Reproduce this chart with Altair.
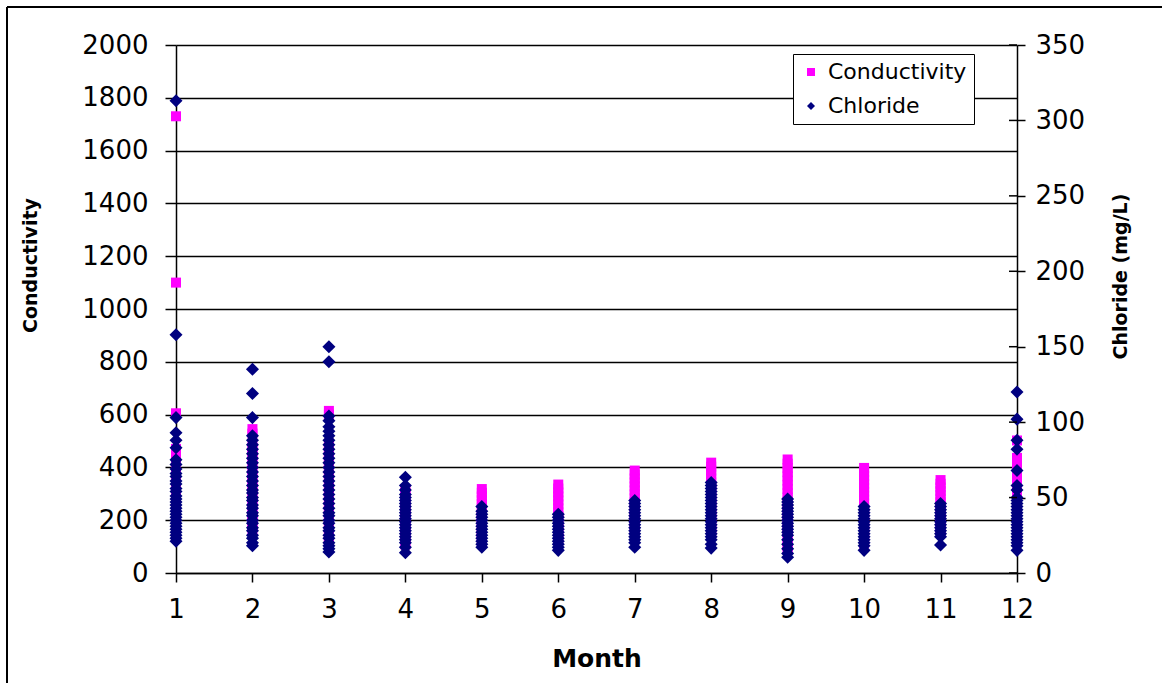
import altair as alt
import pandas as pd

# Monthly readings: conductivity (left axis) and chloride in mg/L (right axis)
months = list(range(1, 13))

cond_m1 = [1730, 1100, 605, 470, 458, 445, 432, 418, 404, 390, 376, 362, 348, 334, 320, 306,
           292, 278, 264, 250, 236, 222, 208, 194, 180, 166, 152, 140]
cond_m2 = [545, 528, 478, 462, 447, 432, 416, 400, 384, 368, 352, 336, 320, 304, 288, 272,
           256, 240, 224, 208, 192, 176, 162]
cond_m3 = [614, 600, 490, 474, 458, 442, 426, 410, 394, 378, 362, 346, 330, 314, 298, 282,
           266, 250, 234, 218, 202, 186, 170, 155, 140, 126, 114]
cond_m4 = [318, 304, 290, 276, 262, 248, 234, 220, 206, 192, 178, 164, 150, 136, 122, 108]
cond_m5 = [318, 304, 290, 276, 262, 248, 234, 220, 206, 192, 178, 164, 150, 136, 122]
cond_m6 = [335, 320, 305, 290, 275, 260, 245, 230, 215, 200, 185, 170, 155, 142, 130]
cond_m7 = [388, 373, 358, 343, 328, 313, 298, 283, 268, 253, 238, 223, 208, 193, 178, 164]
cond_m8 = [418, 403, 388, 373, 358, 343, 328, 313, 298, 283, 268, 253, 238, 223, 208, 193,
           178, 163, 150]
cond_m9 = [430, 414, 398, 382, 366, 350, 334, 318, 302, 286, 270, 254, 238, 222, 206, 190,
           174, 158, 142, 126, 112, 100, 90]
cond_m10 = [398, 383, 368, 353, 338, 323, 308, 293, 278, 263, 248, 233, 218, 203, 188, 173,
            158, 143, 128, 112]
cond_m11 = [352, 338, 324, 310, 296, 282, 268, 254, 240, 226, 212, 198, 184, 170, 160]
cond_m12 = [502, 436, 422, 408, 394, 380, 366, 352, 338, 324, 310, 296, 282, 268, 254, 240,
            226, 212, 198, 184, 170, 156, 143, 130]

chl_m1 = [313, 158, 103, 93, 88, 83, 75, 72, 69, 66, 64, 61, 59, 56, 54, 51, 49, 47, 45, 43,
          41, 39, 37, 35, 33, 31, 29, 27, 25, 23, 21]
chl_m2 = [135, 119, 103, 91, 88, 85, 82, 79, 76, 73, 70, 67, 64, 61, 58, 55, 53, 50, 48, 45,
          43, 40, 38, 35, 33, 30, 28, 25, 23, 20, 18]
chl_m3 = [150, 140, 104, 101, 97, 94, 91, 88, 85, 82, 79, 76, 73, 70, 67, 64, 61, 58, 55, 52,
          49, 46, 43, 40, 38, 35, 33, 30, 28, 25, 23, 20, 18, 16, 14]
chl_m4 = [63.5, 58, 55, 52, 50, 48, 46, 44, 42, 40, 38, 36, 34, 32, 30, 28, 26, 24, 22, 20,
          17, 13.5]
chl_m5 = [44, 41, 39, 37, 35, 33, 31, 29, 27, 25, 23, 21, 19, 17]
chl_m6 = [39, 37, 35, 33, 31, 29, 27, 25, 23, 21, 19, 17, 15]
chl_m7 = [48, 46, 44, 42, 40, 38, 36, 34, 32, 30, 28, 26, 24, 22, 20, 17]
chl_m8 = [60, 58, 56, 54, 52, 50, 48, 46, 44, 42, 40, 38, 36, 34, 32, 30, 28, 26, 24, 22,
          19, 16.5]
chl_m9 = [49, 47, 45, 43, 41, 39, 37, 35, 33, 31, 29, 27, 25, 22, 19, 16, 13, 10.5]
chl_m10 = [44, 42, 40, 38, 36, 34, 32, 30, 28, 26, 24, 22, 20, 18, 15]
chl_m11 = [46, 44, 42, 40, 38, 36, 34, 32, 30, 28, 26, 24, 18.5]
chl_m12 = [120, 102, 88, 82, 68, 58, 55, 50, 48, 46, 44, 42, 40, 38, 36, 34, 32, 30, 28, 26,
           24, 22, 20, 18, 15]

cond_ticks = [0, 200, 400, 600, 800, 1000, 1200, 1400, 1600, 1800, 2000]
chl_ticks = [0, 50, 100, 150, 200, 250, 300, 350]
series_names = ["Conductivity", "Chloride"]
series_colors = ["#FF00FF", "#000080"]
series_shapes = ["square", "diamond"]

cond_lists = [cond_m1, cond_m2, cond_m3, cond_m4, cond_m5, cond_m6,
              cond_m7, cond_m8, cond_m9, cond_m10, cond_m11, cond_m12]
chl_lists = [chl_m1, chl_m2, chl_m3, chl_m4, chl_m5, chl_m6,
             chl_m7, chl_m8, chl_m9, chl_m10, chl_m11, chl_m12]

cond_df = pd.DataFrame(
    [{"month": m, "value": v, "series": "Conductivity"} for m, vals in zip(months, cond_lists) for v in vals]
)
chl_df = pd.DataFrame(
    [{"month": m, "value": v, "series": "Chloride"} for m, vals in zip(months, chl_lists) for v in vals]
)
chl_tick_df = pd.DataFrame({"value": chl_ticks})

W, H = 841, 528
FONT = "DejaVu Sans"

legend = alt.Legend(
    title=None, orient="none", legendX=617, legendY=9,
    labelFont=FONT, labelFontSize=22, labelColor="black", labelOffset=6,
    strokeColor="black", fillColor="white", padding=7, rowPadding=12,
    symbolSize=64, symbolOffset=0, symbolStrokeWidth=0,
)
color_enc = alt.Color("series:N", scale=alt.Scale(domain=series_names, range=series_colors), legend=legend)
shape_enc = alt.Shape("series:N", scale=alt.Scale(domain=series_names, range=series_shapes), legend=legend)

x_enc = alt.X(
    "month:Q",
    scale=alt.Scale(domain=[1, 12], nice=False, zero=False),
    axis=alt.Axis(
        values=months, format="d", title="Month", grid=False, labelFlush=False,
        titleFont=FONT, titleFontSize=25, titleFontWeight="bold", titleColor="black",
        titleX=W / 2, titleY=85, titleAlign="center", titleBaseline="middle",
        labelFont=FONT, labelFontSize=26, labelColor="black", labelPadding=14,
        tickColor="black", tickSize=9, tickWidth=1.5, domainColor="black", domainWidth=1.5,
    ),
)

cond_axis = alt.Axis(
    values=cond_ticks, format="d", title="Conductivity", labelFlush=False,
    titleFont=FONT, titleFontSize=19, titleFontWeight="bold", titleColor="black",
    titleAngle=-90, titleX=-146, titleY=220, titleAlign="center", titleBaseline="middle",
    labelFont=FONT, labelFontSize=26, labelColor="black", labelPadding=17,
    tickColor="black", tickSize=11, tickWidth=1.5, domainColor="black", domainWidth=1.5,
    grid=True, gridColor="black", gridWidth=1.3,
)

chl_axis = alt.Axis(
    orient="right", values=chl_ticks, format="d", title="Chloride (mg/L)", labelFlush=False,
    titleFont=FONT, titleFontSize=19, titleFontWeight="bold", titleColor="black",
    titleAngle=-90, titleX=103, titleY=231, titleAlign="center", titleBaseline="middle",
    labelFont=FONT, labelFontSize=26, labelColor="black", labelPadding=10,
    tickColor="black", tickSize=8, tickWidth=1.5, domainColor="black", domainWidth=1.5,
    grid=False,
)
chl_scale = alt.Scale(domain=[0, 350], nice=False)

cond_layer = alt.Chart(cond_df).mark_point(filled=True, size=100, opacity=1, strokeWidth=0).encode(
    x=x_enc,
    y=alt.Y("value:Q", scale=alt.Scale(domain=[0, 2000], nice=False), axis=cond_axis),
    color=color_enc,
    shape=shape_enc,
)

chl_points = alt.Chart(chl_df).mark_point(filled=True, size=170, opacity=1, strokeWidth=0).encode(
    x=alt.X("month:Q", scale=alt.Scale(domain=[1, 12], nice=False, zero=False)),
    y=alt.Y("value:Q", scale=chl_scale, axis=chl_axis),
    color=color_enc,
    shape=shape_enc,
)

# inner halves of the right-axis ticks, so they cross the axis line
chl_inner_ticks = alt.Chart(chl_tick_df).mark_rule(color="black", strokeWidth=1.5).encode(
    x=alt.value(W - 8),
    x2=alt.value(W),
    y=alt.Y("value:Q", scale=chl_scale, axis=chl_axis),
)

chl_layer = alt.layer(chl_points, chl_inner_ticks)

# outer frame around the figure
frame_df = pd.DataFrame({"k": [0]})
frame_left = alt.Chart(frame_df).mark_rule(color="black", strokeWidth=2).encode(
    x=alt.value(-169), y=alt.value(-38), y2=alt.value(638)
)
frame_top = alt.Chart(frame_df).mark_rule(color="black", strokeWidth=2).encode(
    x=alt.value(-169), x2=alt.value(986), y=alt.value(-38)
)

chart = (
    alt.layer(cond_layer, chl_layer, frame_left, frame_top)
    .resolve_scale(y="independent")
    .properties(
        width=W, height=H,
        autosize=alt.AutoSizeParams(type="none"),
        padding={"left": 176, "top": 45, "right": 145, "bottom": 110},
        background="white",
    )
    .configure_view(stroke=None)
)

chart.save("out.html", embed_options={"renderer": "svg", "actions": False})
